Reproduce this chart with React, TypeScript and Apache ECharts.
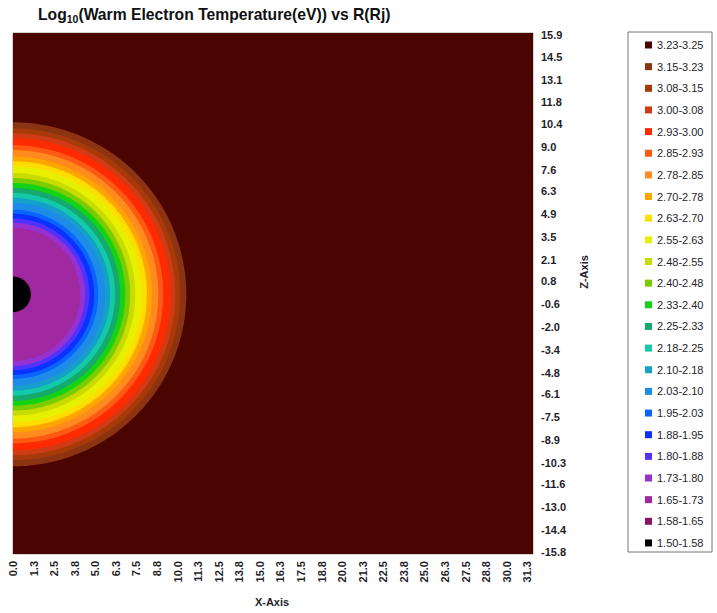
import React, { useEffect, useRef } from "react";
import * as echarts from "echarts";

// Contour levels (legend order, top to bottom)
const LEVELS = [
  "3.23-3.25", "3.15-3.23", "3.08-3.15", "3.00-3.08", "2.93-3.00", "2.85-2.93",
  "2.78-2.85", "2.70-2.78", "2.63-2.70", "2.55-2.63", "2.48-2.55", "2.40-2.48",
  "2.33-2.40", "2.25-2.33", "2.18-2.25", "2.10-2.18", "2.03-2.10", "1.95-2.03",
  "1.88-1.95", "1.80-1.88", "1.73-1.80", "1.65-1.73", "1.58-1.65", "1.50-1.58",
];
const COLORS = [
  "#4a0500", "#8c3312", "#a83a0a", "#d03a14", "#ff2a00", "#ff5a14",
  "#ff8a1e", "#ffa500", "#ffdd00", "#e6f000", "#c8dc00", "#78cc00",
  "#14d214", "#14aa6e", "#14c8aa", "#14a0c8", "#1e8ce6", "#0a64ff",
  "#0a32ff", "#5032ff", "#9632d2", "#a028a0", "#8c1464", "#000000",
];
// Outer radius (Rj) of the region where each level applies (centered at X=0, Z=0)
const OUTER_RADIUS = [
  40, 10.53, 10.16, 9.86, 9.56, 9.13,
  8.83, 8.44, 8.14, 7.83, 7.43, 7.12,
  6.82, 6.52, 6.2, 5.9, 5.6, 5.18,
  4.93, 4.64, 4.38, 4.08, 1.1, 1.08,
];
const CENTER_X = 0;
const CENTER_Z = 0;

const X_TICKS = [
  0, 1.25, 2.5, 3.75, 5, 6.25, 7.5, 8.75, 10, 11.25, 12.5, 13.75, 15, 16.25,
  17.5, 18.75, 20, 21.25, 22.5, 23.75, 25, 26.25, 27.5, 28.75, 30, 31.25,
];
const Z_TICKS = [
  15.9, 14.5, 13.1, 11.8, 10.4, 9.0, 7.6, 6.3, 4.9, 3.5, 2.1, 0.8,
  -0.6, -2.0, -3.4, -4.8, -6.1, -7.5, -8.9, -10.3, -11.6, -13.0, -14.4, -15.8,
];

const FONT = "Liberation Sans, Arial, sans-serif";
const TEXT = "#1e1e2a";

export default function App() {
  const ref = useRef<HTMLDivElement>(null);
  useEffect(() => {
    if (!ref.current) return;
    const chart = echarts.init(ref.current, undefined, { renderer: "svg" });
    const series = LEVELS.map((name, i) => ({
      type: "custom",
      name,
      clip: true,
      silent: true,
      itemStyle: { color: COLORS[i] },
      encode: { x: 0, y: 1 },
      data: [[CENTER_X, CENTER_Z, OUTER_RADIUS[i]]],
      renderItem: (_params: any, api: any) => {
        const cx = api.value(0);
        const cz = api.value(1);
        const r = api.value(2);
        const pts: number[][] = [];
        for (let k = 0; k <= 180; k++) {
          const t = -Math.PI / 2 + (Math.PI * k) / 180;
          pts.push(api.coord([cx + r * Math.cos(t), cz + r * Math.sin(t)]));
        }
        return { type: "polygon", shape: { points: pts }, style: { fill: COLORS[i] } };
      },
    }));
    chart.setOption({
      animation: false,
      title: {
        text: "{a|Log}{s|10}{a|(Warm Electron Temperature(eV)) vs R(Rj)}",
        left: 38,
        top: 6,
        padding: 0,
        textStyle: {
          rich: {
            a: { fontFamily: FONT, fontSize: 15.7, fontWeight: "bold", color: "#111", lineHeight: 18, verticalAlign: "top" },
            s: { fontFamily: FONT, fontSize: 10.5, fontWeight: "bold", color: "#111", lineHeight: 11, verticalAlign: "bottom", padding: [9, 0, 0, 0] },
          },
        },
      },
      grid: { left: 13, top: 33, width: 520, height: 521, show: true, borderColor: "#aaa", borderWidth: 1, backgroundColor: "transparent" },
      xAxis: {
        type: "value",
        min: 0,
        max: 31.6,
        splitLine: { show: false },
        axisLine: { show: true, lineStyle: { color: "#aaa" } },
        axisTick: { show: true, customValues: X_TICKS, length: 4, lineStyle: { color: "#aaa" } },
        axisLabel: {
          customValues: X_TICKS,
          rotate: 90,
          margin: 7,
          fontFamily: FONT,
          fontSize: 11,
          fontWeight: "bold",
          color: TEXT,
          formatter: (v: number) => v.toFixed(1),
        },
      },
      yAxis: {
        type: "value",
        position: "right",
        min: -15.9,
        max: 16.0,
        splitLine: { show: false },
        axisLine: { show: false },
        axisTick: { show: false },
        axisLabel: {
          customValues: Z_TICKS,
          margin: 8,
          fontFamily: FONT,
          fontSize: 11,
          fontWeight: "bold",
          color: TEXT,
          formatter: (v: number) => v.toFixed(1),
        },
      },
      legend: {
        data: LEVELS,
        orient: "vertical",
        left: 645,
        top: 39,
        padding: 0,
        itemGap: 9.65,
        itemWidth: 7,
        itemHeight: 7,
        icon: "rect",
        selectedMode: false,
        textStyle: { fontFamily: FONT, fontSize: 11, lineHeight: 12, color: TEXT },
      },
      graphic: [
        { type: "rect", shape: { x: 628, y: 32, width: 84, height: 520 }, style: { fill: "none", stroke: "#777", lineWidth: 1 }, silent: true },
        { type: "text", x: 272, y: 602, style: { text: "X-Axis", fontFamily: FONT, fontSize: 11, fontWeight: "bold", fill: TEXT, align: "center", verticalAlign: "middle" } },
        { type: "text", x: 584, y: 272, rotation: Math.PI / 2, style: { text: "Z-Axis", fontFamily: FONT, fontSize: 11, fontWeight: "bold", fill: TEXT, align: "center", verticalAlign: "middle" } },
      ],
      series,
    });
    return () => chart.dispose();
  }, []);
  return <div ref={ref} style={{ position: "fixed", left: 0, top: 0, width: 717, height: 613, background: "#fff" }} />;
}
